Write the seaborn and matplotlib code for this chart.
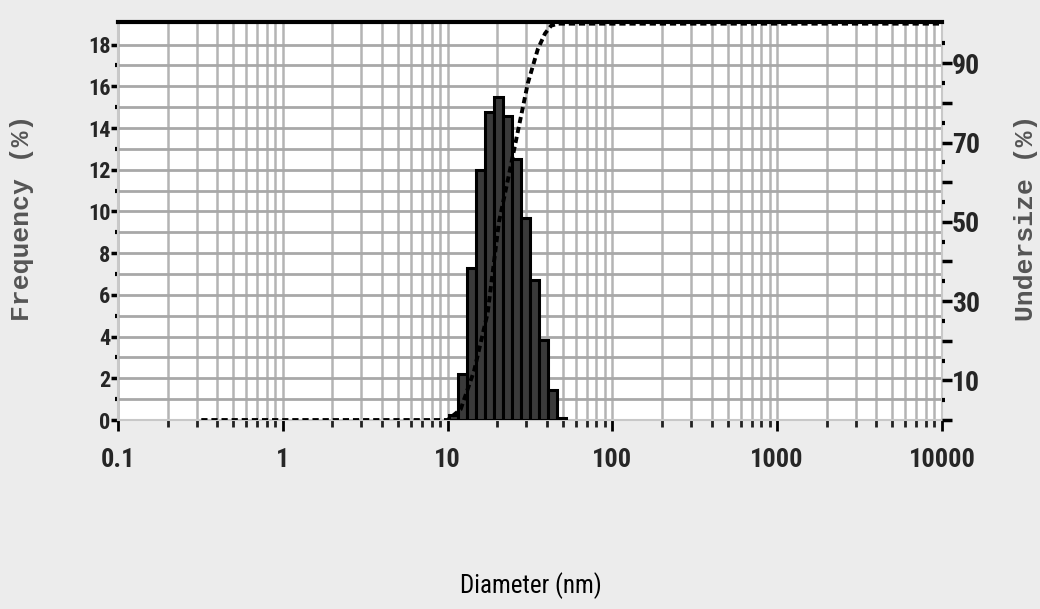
import numpy as np
import pandas as pd
import matplotlib
matplotlib.use("Agg")
import matplotlib.pyplot as plt
from matplotlib import font_manager
from matplotlib.ticker import FixedLocator, FuncFormatter, NullFormatter, LogLocator
import seaborn as sns

# ---------------- data ----------------
bin_edges_nm = [10.2, 11.6, 13.15, 14.9, 16.9, 19.2, 21.8, 24.7, 28.0, 31.8,
                36.1, 40.9, 46.4, 52.6]
bin_centers_nm = [10.9, 12.35, 14.0, 15.9, 18.0, 20.45, 23.2, 26.3, 29.85,
                  33.9, 38.4, 43.6, 49.4]
frequency_pct = [0.25, 2.2, 7.3, 12.0, 14.75, 15.5, 14.6, 12.5, 9.7, 6.7,
                 3.85, 1.45, 0.12]

undersize_nm = [0.32, 10.0, 12.0, 14.5, 17.5, 20.5, 23.6, 26.6, 30.7, 35.3,
                39.0, 42.5, 47.0, 10000.0]
undersize_pct = [0.0, 0.0, 2.7, 12.5, 27.0, 50.0, 62.0, 72.5, 85.0, 93.6,
                 97.5, 99.5, 100.0, 100.0]

x_tick_values = [0.1, 1, 10, 100, 1000, 10000]
left_tick_values = [0, 2, 4, 6, 8, 10, 12, 14, 16, 18]
right_tick_values = [0, 10, 20, 30, 40, 50, 60, 70, 80, 90]
right_labelled = [10, 30, 50, 70, 90]

# ---------------- style ----------------
sns.set_theme(style="white")
avail = {f.name for f in font_manager.fontManager.ttflist}
narrow = next((f for f in ["Liberation Sans Narrow", "DejaVu Sans Condensed",
                           "Roboto Condensed", "DejaVu Sans"] if f in avail),
              "DejaVu Sans")
mono = next((f for f in ["Liberation Mono", "DejaVu Sans Mono"] if f in avail),
            "DejaVu Sans Mono")
plt.rcParams["font.family"] = [narrow, "DejaVu Sans"]

bg = "#ececec"
fig = plt.figure(figsize=(10.4, 6.09), dpi=100, facecolor=bg)
ax = fig.add_axes([0.1135, 0.3103, 0.7922, 0.6541])
ax.set_facecolor("white")
ax.set_xscale("log")

df = pd.DataFrame({"d": bin_centers_nm, "f": frequency_pct})
# axis is log-scaled, so seaborn bins in log10 space
log_edges = [float(v) for v in np.log10(bin_edges_nm)]
sns.histplot(data=df, x="d", weights="f", bins=log_edges, ax=ax,
             color="#3a3a3a", alpha=1.0, edgecolor="black", linewidth=2.2,
             zorder=3)

# cumulative undersize curve on right axis
ax2 = ax.twinx()
sns.lineplot(x=undersize_nm, y=undersize_pct, ax=ax2, color="black",
             linewidth=2.8, linestyle=(0, (1.6, 1.0)), sort=False)
ax2.set_xscale("log")

ax.set_xlim(0.1, 10000)
ax.set_ylim(0, 19.1)
ax2.set_ylim(0, 100.5)

# grid
ax.yaxis.set_major_locator(FixedLocator(left_tick_values))
ax.yaxis.set_minor_locator(FixedLocator(np.arange(1, 19, 2)))
ax.grid(True, which="both", axis="y", color="#a8a8a8", linewidth=2.0, zorder=0)
ax.grid(True, which="both", axis="x", color="#b4b4b4", linewidth=1.8, zorder=0)
ax.set_axisbelow(True)

ax.xaxis.set_major_locator(FixedLocator(x_tick_values))
ax.xaxis.set_minor_locator(LogLocator(base=10, subs=np.arange(2, 10)))
ax.xaxis.set_major_formatter(FuncFormatter(lambda v, _: f"{v:g}"))
ax.xaxis.set_minor_formatter(NullFormatter())

ax.tick_params(axis="x", which="major", direction="out", length=8, width=2,
               color="black", labelsize=19, pad=12, bottom=True)
ax.tick_params(axis="x", which="minor", direction="out", length=5, width=2,
               color="#222222", bottom=True)
ax.tick_params(axis="y", which="major", direction="out", length=5, width=2.5,
               color="black", labelsize=16, pad=0.5, left=True)
ax.tick_params(axis="y", which="minor", direction="out", length=2, width=3,
               color="black", left=True)

for side in ["left", "right", "bottom"]:
    ax.spines[side].set_color("#c8c8c8")
    ax.spines[side].set_linewidth(1.5)
ax.spines["top"].set_color("black")
ax.spines["top"].set_linewidth(3)
ax.set_xlabel("")
ax.set_ylabel("")

ax2.yaxis.set_major_locator(FixedLocator(right_tick_values))
ax2.yaxis.set_minor_locator(FixedLocator(np.arange(5, 100, 10)))
ax2.yaxis.set_major_formatter(
    FuncFormatter(lambda v, _: f"{v:g}" if round(v) in right_labelled else ""))
ax2.tick_params(axis="y", which="major", direction="out", length=7, width=2.5,
                color="black", labelsize=20, pad=0, right=True)
ax2.tick_params(axis="y", which="minor", direction="out", length=2, width=3,
                color="black", right=True)
for side in ["left", "right", "bottom", "top"]:
    ax2.spines[side].set_visible(False)
ax2.set_xlabel("")
ax2.set_ylabel("")

for lab in ax.get_xticklabels() + ax.get_yticklabels() + ax2.get_yticklabels():
    lab.set_fontweight("bold")

# axis titles
fig.text(0.021, 0.643, "Frequency (%)", rotation=90, ha="center", va="center",
         fontsize=19, fontweight="bold", color="#555555", family=[mono])
fig.text(0.998, 0.643, "Undersize (%)", rotation=90, ha="right", va="center",
         fontsize=19, fontweight="bold", color="#555555", family=[mono])
fig.text(0.5106, 0.038, "Diameter (nm)", ha="center", va="center",
         fontsize=18, color="black")

fig.savefig("out.png", dpi=100, facecolor=bg)
